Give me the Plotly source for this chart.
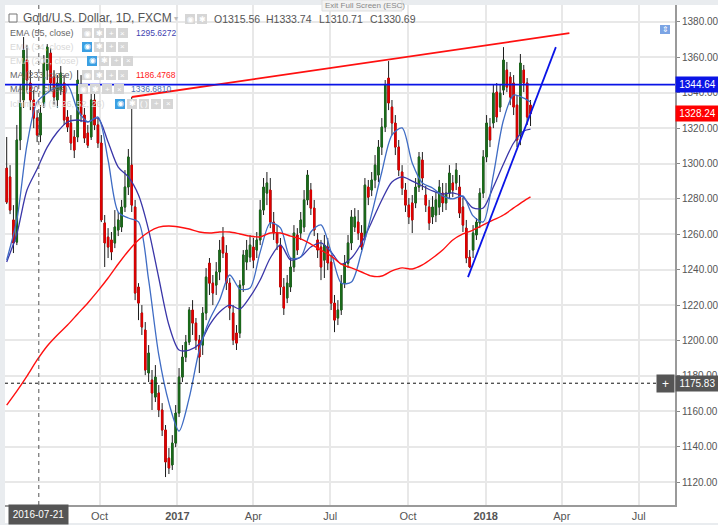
import pandas as pd
import plotly.graph_objects as go

BAR_DATES = [d.strftime("%Y-%m-%d") for d in pd.date_range("2016-06-13", periods=156, freq="4D")]

OPENS = [1297.4,1292.4,1268.1,1255.6,1313.3,1335.9,1358.5,1345.5,1335.9,1325.7,1316.1,1334.2,1352.8,1362.4,1348.9,1335.9,1341.5,1345.5,1326.3,1322.9,
1315,1315,1344.4,1327.4,1317.2,1315,1335.9,1321.8,1311.6,1266.4,1258.4,1256.8,1255.1,1262.4,1264.1,1275.4,1286.7,1299.1,1275.4,1230.2,
1215.5,1205.9,1181.6,1177.6,1168,1170.3,1160.7,1149.4,1133.5,1129.6,1142,1159,1179.3,1190.6,1199.1,1217.2,1209.8,1200.2,1197.4,1215.5,
1243.7,1232.4,1231.3,1238.7,1258.4,1249.4,1232.4,1215.5,1204.2,1204.2,1231.3,1244.3,1247.1,1252.8,1251.1,1256.8,1273.7,1283.3,1285,1266.9,
1260.7,1253.9,1230.2,1224,1230.2,1241.5,1259.6,1260.7,1264.1,1279.4,1285,1274.8,1256.8,1252.8,1245.4,1252.8,1244.3,1221.1,1212.7,1217.2,
1232.4,1243.7,1255.1,1264.1,1266.9,1260.7,1258.4,1286.7,1285,1290.7,1293.5,1309.3,1320.6,1348.3,1331.9,1322.9,1309.3,1295.2,1285,1276.5,
1277.7,1277.7,1286.7,1302,1282.2,1275.4,1269.8,1270.9,1275.4,1283.3,1277.7,1283.3,1289,1289,1286.7,1275.4,1263.5,1247.1,1251.1,1259.6,
1266.4,1283.3,1303.7,1320.6,1322.9,1340.4,1331.9,1341.5,1352.8,1348.9,1345.5,1333,1316.1,1352.8,1345.5,1333]
HIGHS = [1315,1299.1,1276.5,1321.8,1344.4,1371.5,1367,1352.8,1341.5,1330.2,1333,1361.3,1367.5,1365.3,1352.8,1350,1355.1,1350,1330.2,1327.4,
1318.9,1352.8,1350,1331.4,1321.8,1340.4,1343.2,1325.7,1316.1,1270.9,1263.5,1261.3,1273.7,1272.6,1279.4,1296.3,1308.2,1337.6,1279.4,1232.4,
1220,1210.4,1197.4,1183.3,1186.1,1174.8,1164.6,1152.2,1139.2,1146.5,1163.5,1184.4,1197.4,1203.1,1218.9,1222.8,1212.7,1203.1,1218.9,1240.9,
1246.6,1237,1244.3,1256.8,1264.1,1253.9,1235.3,1220,1208.7,1234.1,1251.1,1256.8,1259.6,1257.9,1261.3,1279.4,1291.8,1295.2,1291.8,1272.6,
1265.2,1257.9,1235.3,1237,1246.6,1265.2,1263.5,1272.6,1285,1296.3,1289,1279.4,1260.7,1256.8,1259.6,1257.9,1248.3,1225.7,1222.8,1237,
1248.3,1259.6,1273.7,1274.8,1273.7,1265.2,1291.8,1290.7,1295.2,1304.8,1313.3,1325.7,1347.2,1357.9,1335.9,1327.4,1313.3,1299.1,1289,1280.5,
1282.2,1291.8,1306.5,1306.5,1287.3,1279.4,1281.6,1283.9,1290.7,1289,1289,1299.1,1293.5,1300.3,1293.5,1280.5,1268.1,1251.1,1265.2,1269.2,
1286.1,1307.6,1327.4,1325.7,1344.4,1345.5,1344.4,1365.8,1357.4,1351.7,1350,1338.7,1361.9,1355.7,1348.3,1335.9]
LOWS = [1277.1,1271.4,1249.4,1253.9,1307.6,1331.4,1341.5,1330.2,1320,1312.1,1312.1,1331.4,1347.2,1341.5,1333,1331.4,1338.7,1321.8,1317.8,1307.6,
1303.1,1312.1,1323.4,1311.6,1308.8,1313.3,1318.9,1308.8,1266.9,1241.5,1246.6,1245.4,1252.2,1259,1261.3,1272.6,1282.2,1272.6,1222.8,1211.5,
1203.1,1180.4,1176.5,1160.7,1165.2,1156.7,1146,1122.8,1124.5,1126.8,1139.7,1156.7,1176.5,1187.8,1197.4,1203.1,1194.6,1181.6,1191.8,1211.5,
1225.7,1220,1225.7,1234.1,1246.6,1228.5,1211.5,1197.4,1194.6,1201.4,1227.4,1239.8,1244.3,1240.9,1246.6,1253.9,1270.9,1276.5,1263.5,1256.8,
1251.1,1225.7,1214.4,1221.1,1227.4,1238.7,1248.3,1256.8,1261.3,1276.5,1270.9,1259,1246.6,1234.1,1235.3,1239.8,1217.2,1204.7,1208.7,1214.4,
1229.6,1240.9,1251.1,1261.3,1256.8,1251.1,1256.8,1276.5,1281.6,1286.1,1289.5,1304.8,1317.8,1330.2,1316.1,1304.8,1292.9,1282.2,1272.6,1265.8,
1260.7,1274.8,1283.9,1285,1272.6,1262.4,1265.8,1266.9,1270.9,1272.6,1273.7,1280.5,1281,1285,1269.2,1261.3,1243.7,1240.9,1246.6,1256.8,
1263.5,1280.5,1300.8,1309.3,1320,1323.4,1329.1,1338.7,1340.4,1333,1327.4,1309.3,1310.4,1340.4,1321.8,1321.2]
CLOSES = [1278.2,1273.7,1255.1,1313.3,1334.2,1364.1,1347.2,1335.9,1325.7,1316.1,1328.5,1356.8,1365.8,1345.5,1337.6,1345.5,1351.1,1324.6,1320.6,1311.6,
1307.6,1347.2,1327.4,1314.4,1310.4,1335.9,1321.8,1311.6,1268.1,1255.1,1252.8,1250,1264.1,1268.1,1275.4,1286.7,1303.7,1276.5,1226.8,1221.1,
1207.6,1183.3,1192.9,1170.3,1179.3,1160.7,1149.4,1131.3,1127.9,1142,1159,1179.3,1190.6,1199.1,1217.2,1209.8,1200.2,1190.6,1215.5,1235.8,
1232.4,1226.8,1238.7,1251.1,1249.4,1232.4,1218.3,1200.2,1198.5,1231.3,1248.3,1251.1,1253.9,1245.4,1256.8,1273.7,1286.7,1289,1266.9,1260.7,
1255.1,1230.2,1218.3,1232.4,1241.5,1260.7,1251.1,1268.1,1279.4,1293.5,1274.8,1262.4,1251.1,1241.5,1253.9,1243.8,1221.1,1211.5,1217.2,1232.4,
1243.7,1255.1,1269.8,1269.8,1260.7,1252.8,1287.8,1281,1290.7,1299.1,1309.3,1320.6,1344.4,1334.2,1322.9,1309.3,1296.3,1286.1,1276.5,1269.8,
1268.1,1286.7,1303.7,1291.8,1276.5,1266.4,1275.4,1279.4,1286.7,1277.7,1283.3,1294.6,1285,1296.3,1272,1265.2,1246.6,1241.5,1260.7,1266.9,
1283.3,1303.7,1322.9,1313.3,1339.8,1326.3,1339.8,1358.5,1343.2,1337.6,1331.9,1313.3,1356.8,1345.5,1326.3,1328.24]

EMA_55 = [1244.4,1260.2,1285,1296.9,1309.3,1317.8,1323.5,1324.6,1323.5,1325.7,
1312.2,1298,1292.4,1282.2,1262.4,1235.3,1208.7,1194.6,1194.6,1198,
1208.7,1216.1,1220,1217.8,1224.6,1234.2,1246.6,1254,1245.5,1247.2,
1252.8,1255.1,1250,1243.2,1246.6,1255.1,1267,1279.4,1289.6,1292.4,
1290.1,1287.3,1284.5,1282.8,1283.4,1281.1,1274.9,1274.9,1286.7,1299.7,
1311.6,1318.4,1319.5]
EMA_34 = [1245.5,1268.1,1310.5,1334.8,1339.9,1343.3,1344.4,1330.3,1323.5,1326.3,
1302,1272.6,1269.2,1267,1234.2,1191.8,1164.7,1148.8,1167.5,1194.6,
1211.6,1222.9,1237,1229.1,1229.7,1250,1266.4,1263.6,1246.6,1247.2,
1261.3,1265.3,1250,1232.5,1233,1250,1271.5,1295.2,1316.1,1320.1,
1300.3,1289,1286.2,1281.7,1280,1281.7,1270.4,1267,1293.5,1324.6,
1338.7,1337,1334.8]
MA_233 = [1163.5,1171.4,1179.9,1189,1196.9,1203.1,1208.7,1215,1221.2,1228,
1235.3,1243.2,1250.6,1256.8,1261.3,1264.1,1264.7,1264.1,1263,1261.3,
1260.7,1261.3,1261.3,1260.2,1259,1258.5,1260.7,1260.7,1259,1257.4,
1254.5,1251.1,1247.7,1243.2,1241,1238.7,1236.4,1236.4,1239.3,1241,
1240.4,1242.7,1246.6,1251.1,1256.8,1260.2,1262.4,1265.3,1268.1,1270.9,
1274.9,1278.8,1281.1]
LINE_DATES = BAR_DATES[::3] + [BAR_DATES[-1]]

RED_TREND_DATES = ["2016-11-08", "2018-04-10"]
RED_TREND_PRICES = [1337.6, 1373.7]
BLUE_TREND_DATES = ["2017-12-11", "2018-03-25"]
BLUE_TREND_PRICES = [1235.8, 1365.8]
RESISTANCE = 1344.64
LAST_PRICE = 1328.24
CROSS_PRICE = 1175.83
CROSS_DATE = "2016-07-21"

Y_TICKS = list(range(1120, 1381, 20))
X_TICKS = ["2016-10-01", "2017-01-01", "2017-04-01", "2017-07-01", "2017-10-01", "2018-01-01", "2018-04-01", "2018-07-01"]
X_LABELS = ["Oct", "<b>2017</b>", "Apr", "Jul", "Oct", "<b>2018</b>", "Apr", "Jul"]

W, H = 718, 525
L, R, T, B = 5, 43, 5, 20
PW, PH = W - L - R, H - T - B
FONT = "Liberation Sans, Arial, sans-serif"
GREY = "#555555"


def px(x):
    return (x - L) / PW


def py(y):
    return 1 - (y - T) / PH


fig = go.Figure()
# full-range candles (black wicks) with coloured bodies drawn over them
fig.add_trace(go.Candlestick(
    x=BAR_DATES, open=OPENS, high=HIGHS, low=LOWS, close=CLOSES,
    increasing=dict(line=dict(color="#1c1c1c", width=1), fillcolor="#1c1c1c"),
    decreasing=dict(line=dict(color="#1c1c1c", width=1), fillcolor="#1c1c1c"),
    whiskerwidth=0, showlegend=False, hoverinfo="skip"))
fig.add_trace(go.Candlestick(
    x=BAR_DATES, open=OPENS, close=CLOSES,
    high=[max(o, c) for o, c in zip(OPENS, CLOSES)],
    low=[min(o, c) for o, c in zip(OPENS, CLOSES)],
    increasing=dict(line=dict(color="#1b6b1b", width=1), fillcolor="#1b6b1b"),
    decreasing=dict(line=dict(color="#e00000", width=1), fillcolor="#e00000"),
    whiskerwidth=0, showlegend=False, hoverinfo="skip"))
for values, color, width in [(EMA_55, "#3a36a8", 1.3), (EMA_34, "#3f6cc4", 1.3), (MA_233, "#ff1010", 1.4)]:
    fig.add_trace(go.Scatter(x=LINE_DATES, y=values, mode="lines",
                             line=dict(color=color, width=width, shape="spline", smoothing=0.8),
                             showlegend=False, hoverinfo="skip"))
fig.add_trace(go.Scatter(x=RED_TREND_DATES, y=RED_TREND_PRICES, mode="lines",
                         line=dict(color="#ff1010", width=1.8), showlegend=False, hoverinfo="skip"))
fig.add_trace(go.Scatter(x=BLUE_TREND_DATES, y=BLUE_TREND_PRICES, mode="lines",
                         line=dict(color="#0a14e6", width=1.8), showlegend=False, hoverinfo="skip"))

shapes = [
    dict(type="line", xref="paper", yref="y", x0=0, x1=1, y0=RESISTANCE, y1=RESISTANCE,
         line=dict(color="#0a14e6", width=1.8)),
    dict(type="line", xref="paper", yref="y", x0=0, x1=1, y0=CROSS_PRICE, y1=CROSS_PRICE,
         line=dict(color="#111111", width=1, dash="3px,3px")),
    dict(type="line", xref="x", yref="paper", x0=CROSS_DATE, x1=CROSS_DATE, y0=0, y1=py(5),
         line=dict(color=GREY, width=1, dash="4px,4px")),
]


def rect(x0, y0, x1, y1, color, line=None):
    shapes.append(dict(type="rect", xref="paper", yref="paper",
                       x0=px(x0), x1=px(x1), y0=py(y1), y1=py(y0),
                       fillcolor=color, line=dict(color=line or color, width=1 if line else 0)))


# window chrome
rect(0, 0, W, 5, "#e9ecef")
rect(0, 0, 5, H, "#e9ecef")
rect(0, 523, W, H, "#e9ecef")
rect(322, 0, 402, 11, "#f2f2f2", "#dddddd")
rect(9, 14, 17, 22, "#ffffff", "#777777")
rect(660, 25, 670, 34, "#7ba4e4")

annotations = []


def text(x, y, s, size=10, color=GREY, anchor="left", bg=None, **kw):
    annotations.append(dict(xref="paper", yref="paper", x=px(x), y=py(y), text=s, showarrow=False,
                            xanchor=anchor, yanchor="middle",
                            font=dict(family=FONT, size=size, color=color), bgcolor=bg,
                            borderpad=0, **kw))


def buttons(x, y, first_blue=False, count=4, glyphs=("◉", "✱", "+", "×")):
    for i in range(count):
        x0 = x + i * 12
        rect(x0, y - 5, x0 + 10, y + 5, "#3b9fe2" if (first_blue and i == 0) else "#d6d6d6")
        text(x0 + 5, y, glyphs[i], size=8, color="#ffffff", anchor="center")


text(22, 18, "Gold/U.S. Dollar, 1D, FXCM", size=12, color="#555555")
text(173, 18, "▾", size=8, color="#bbbbbb")
buttons(185, 19, count=2)
for x0, s in [(213, "O1315.56"), (265, "H1333.74"), (318, "L1310.71"), (369, "C1330.69")]:
    text(x0, 19, s, size=10.5, color="#555555")
text(324, 5, "Exit Full Screen (ESC)", size=8, color="#888888")

rows = [
    (9, 33, "EMA (55, close)", "#666666", 82, False, "1295.6272", 135, "#3f3fb0"),
    (9, 47, "EMA (34, close)", "#d8d8d8", 82, True, None, 0, None),
    (9, 61, "EMA (200, close)", "#d8d8d8", 87, True, None, 0, None),
    (9, 75, "MA (233, close)", "#666666", 82, False, "1186.4768", 135, "#ff2020"),
    (9, 89, "MA (20, close)", "#666666", 78, False, "1336.6810", 130, "#4a6fb0"),
]
for x0, y0, label, color, bx, blue, val, vx, vc in rows:
    text(x0, y0, label, size=9, color=color)
    buttons(bx, y0, first_blue=blue)
    if val:
        text(vx, y0, val, size=8.5, color=vc)
text(9, 104, "Ichimoku (9, 26, 52, 26)", size=9, color="#d8d8d8")
buttons(115, 104, first_blue=True, count=5, glyphs=("◉", "✱", "( )", "+", "×"))

text(665, 29.5, "⇕", size=8, color="#ffffff", anchor="center")

for price, color in [(RESISTANCE, "#0a14e6"), (LAST_PRICE, "#ff0000"), (CROSS_PRICE, "#555555")]:
    annotations.append(dict(xref="paper", yref="y", x=1, y=price, text=f"{price:.2f}", showarrow=False,
                            xanchor="left", yanchor="middle", width=43, height=15,
                            align="center", bgcolor=color, borderpad=0,
                            font=dict(family=FONT, size=10, color="#ffffff")))
annotations.append(dict(xref="paper", yref="y", x=1, y=CROSS_PRICE, text="+", showarrow=False,
                        xanchor="right", yanchor="middle", width=15, height=15, bgcolor="#555555",
                        font=dict(family=FONT, size=12, color="#ffffff")))
annotations.append(dict(xref="x", yref="paper", x=CROSS_DATE, y=py(514), text=CROSS_DATE, showarrow=False,
                        xanchor="center", yanchor="middle", width=57, height=17, bgcolor="#555555",
                        font=dict(family=FONT, size=10, color="#ffffff")))

fig.update_layout(
    width=W, height=H, margin=dict(l=L, r=R, t=T, b=B, autoexpand=False),
    paper_bgcolor="#ffffff", plot_bgcolor="#ffffff",
    boxgap=0.4, showlegend=False, hovermode=False,
    font=dict(family=FONT, color=GREY),
    shapes=shapes, annotations=annotations,
    xaxis=dict(type="date", range=["2016-06-11", "2018-08-13"], rangeslider=dict(visible=False),
               automargin=False, tickmode="array", tickvals=X_TICKS, ticktext=X_LABELS,
               tickfont=dict(size=11, color=GREY, family=FONT), ticks="",
               showgrid=True, gridcolor="#e8e8e8", gridwidth=1.5, zeroline=False,
               showline=True, linecolor="#9a9a9a", linewidth=2),
    yaxis=dict(side="right", range=[1107, 1389.6], automargin=False, tickmode="array", tickvals=Y_TICKS,
               ticktext=[f"{v:.2f}" for v in Y_TICKS],
               tickfont=dict(size=10, color=GREY, family=FONT), ticks="outside", ticklen=3,
               tickcolor="#888888", showgrid=True, gridcolor="#e8e8e8", gridwidth=1.5, zeroline=False,
               showline=True, linecolor="#9a9a9a", linewidth=2),
)

fig.write_html("out.html", config=dict(displayModeBar=False),
               post_script="document.body.style.margin='0';document.documentElement.style.overflow='hidden';")
